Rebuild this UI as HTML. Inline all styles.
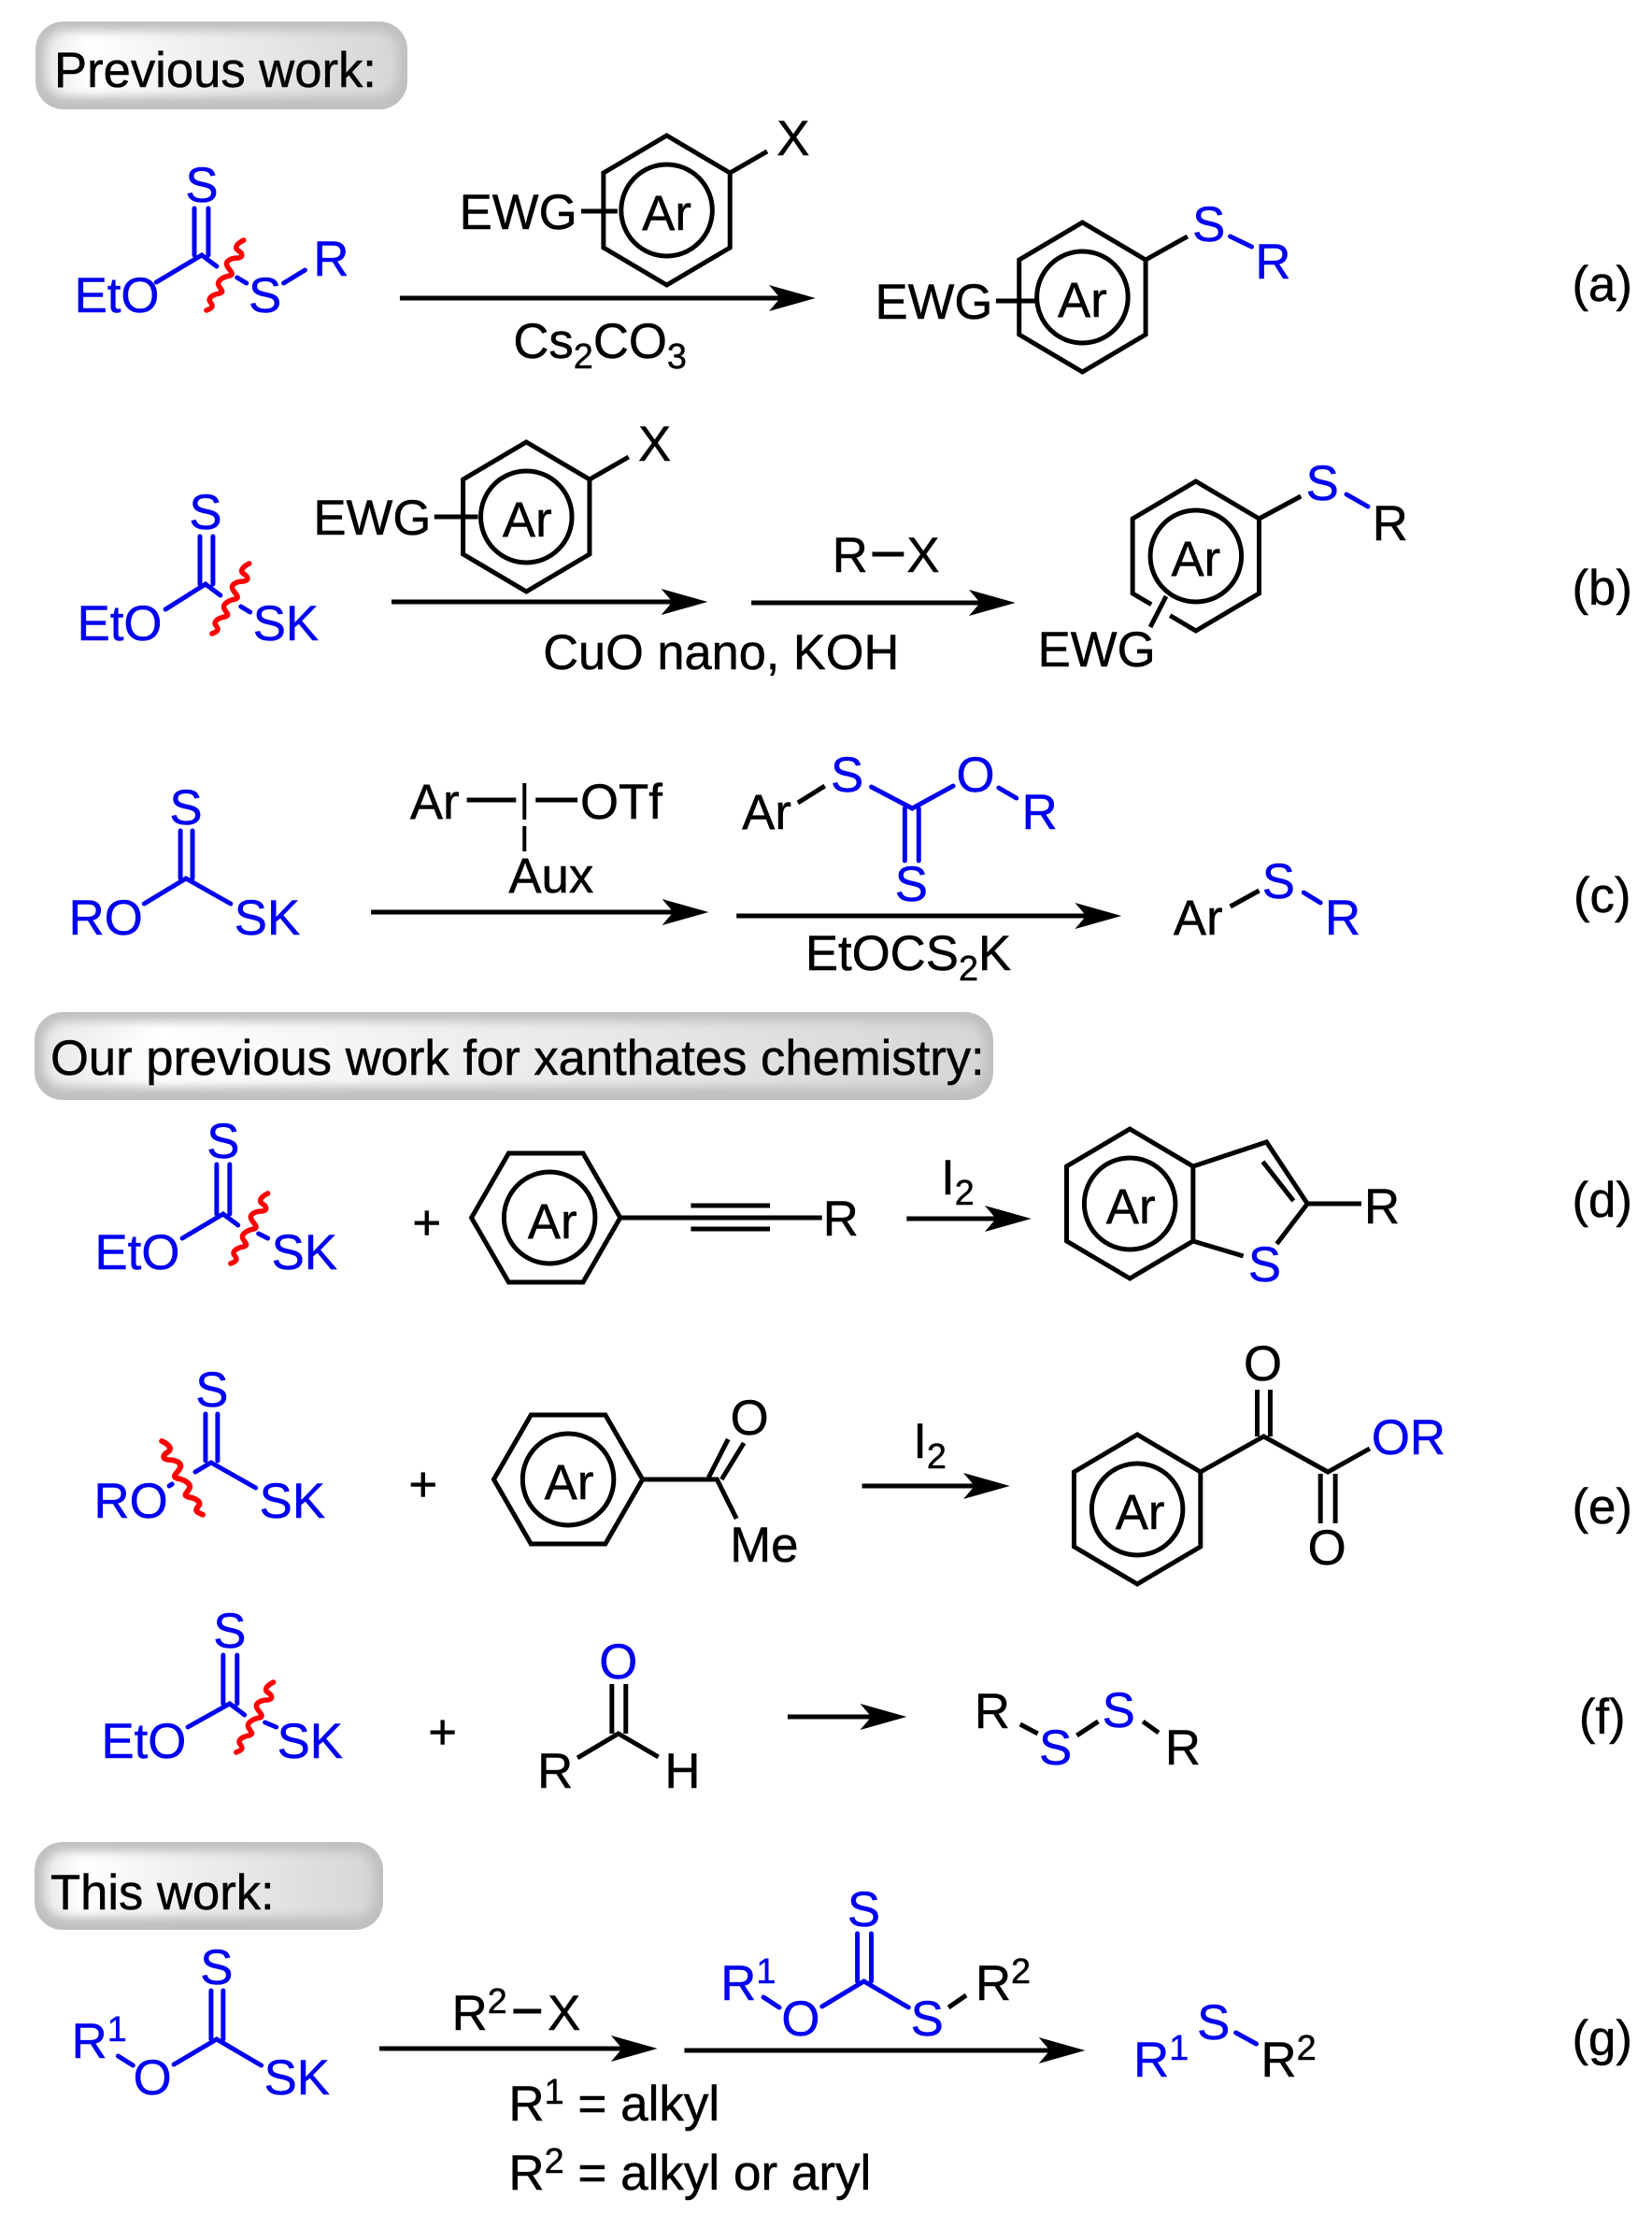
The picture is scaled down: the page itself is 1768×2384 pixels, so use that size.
<!DOCTYPE html>
<html><head><meta charset="utf-8"><style>
html,body{margin:0;padding:0;background:#fff}
svg{display:block}
text{font-family:"Liberation Sans",Arial,sans-serif;font-size:53px;fill:#000;stroke:#000;stroke-width:.5}
.c{text-anchor:middle}
.t{fill:#0000f0;stroke:#0000f0}
.p{font-size:52.6px}
.q{font-size:52.6px}
.m{font-size:53.3px}
.k{stroke:#000;stroke-width:5;fill:none;stroke-linecap:butt}
.u{stroke:#0000f0;stroke-width:5;fill:none;stroke-linecap:round}
.r{stroke:#f00;stroke-width:5.5;fill:none;stroke-linecap:round}
.a{fill:#000;stroke:none}
</style></head><body>
<svg xmlns="http://www.w3.org/2000/svg" width="1768" height="2384" viewBox="0 0 1768 2384">
<defs>
<linearGradient id="pg" x1="0" x2="1" y1="0" y2="0"><stop offset="0" stop-color="#e8e8e8"/><stop offset=".12" stop-color="#fff"/><stop offset=".45" stop-color="#eee"/><stop offset="1" stop-color="#d6d6d6"/></linearGradient>
<filter id="bl" x="-10%" y="-20%" width="120%" height="140%"><feGaussianBlur stdDeviation="5"/></filter>
<clipPath id="c1"><rect x="38" y="23" width="398" height="94" rx="30"/></clipPath>
<clipPath id="c2"><rect x="37" y="1083" width="1026" height="94" rx="30"/></clipPath>
<clipPath id="c3"><rect x="37" y="1971" width="372" height="94" rx="30"/></clipPath>
<g id="h1"><path class="k" d="M0-80L68-40V40L0 80L-68 40V-40Z"/><circle class="k" cx="0" cy="0" r="49"/></g>
<g id="h2"><path class="k" d="M-80 0L-40-69H40L80 0L40 69H-40Z"/><circle class="k" cx="0" cy="0" r="49"/></g>
<g id="h3"><path class="k" d="M-80 0L-40-69H40L80 0L40 69H-40Z"/><circle class="k" cx="4" cy="0" r="49"/></g>
<path id="w" class="r" d="M0 0C-8 4-10 8-6 11C-1 14 0 18-6 19C-13 19-20 22-18 27C-16 32-9 36-15 38C-21 39-29 43-27 48C-25 53-20 55-26 57C-33 58-39 62-36 66C-33 70-32 72-40 75"/>
</defs>
<rect width="1768" height="2384" fill="#fff"/>

<!-- pills -->
<rect x="38" y="23" width="398" height="94" rx="30" fill="#c0c0c0"/>
<g clip-path="url(#c1)"><rect x="48" y="33" width="378" height="70" rx="22" fill="url(#pg)" filter="url(#bl)"/></g>
<text class="p" x="58" y="93">Previous work:</text>
<rect x="37" y="1083" width="1026" height="94" rx="30" fill="#c0c0c0"/>
<g clip-path="url(#c2)"><rect x="47" y="1093" width="1006" height="70" rx="22" fill="url(#pg)" filter="url(#bl)"/></g>
<text class="q" x="54" y="1150">Our previous work for xanthates chemistry:</text>
<rect x="37" y="1971" width="373" height="94" rx="30" fill="#c0c0c0"/>
<g clip-path="url(#c3)"><rect x="47" y="1981" width="353" height="70" rx="22" fill="url(#pg)" filter="url(#bl)"/></g>
<text class="p" x="54" y="2043">This work:</text>

<g transform="scale(.9952 1)">
<!-- (a) -->
<text class="c t" x="217" y="216">S</text>
<path class="u" d="M209 223V273M224 223V273M168 302L217 273L233 285M255 297L265 303M305 303L328 289"/>
<text class="t" x="80" y="334">EtO</text><text class="c t" x="285" y="334">S</text><text class="t" x="337" y="295">R</text>
<use href="#w" x="262" y="257"/>
<use href="#h1" x="717" y="225"/>
<text class="c" x="717" y="246">Ar</text><text class="c" x="853" y="166">X</text><text x="494" y="245">EWG</text>
<path class="k" d="M785 185L825 162M625 226H664"/>
<path class="k" d="M430 319H841"/><polygon class="a" points="877,319 827,305 839,319 827,333"/>
<text x="552" y="383">Cs<tspan font-size="38" dy="11">2</tspan><tspan dy="-11">CO</tspan><tspan font-size="38" dy="11">3</tspan></text>
<use href="#h1" x="1164" y="318"/>
<text class="c" x="1164" y="339">Ar</text><text x="941" y="341">EWG</text>
<path class="k" d="M1232 278L1277 253M1071 322H1116"/>
<path class="u" d="M1323 253L1346 264"/>
<text class="c t" x="1300" y="258">S</text><text class="c t" x="1369" y="298">R</text>
<text class="c" x="1723" y="322">(a)</text>

<!-- (b) -->
<text class="c t" x="221" y="566">S</text>
<path class="u" d="M215 574V625M229 574V625M178 652L221 625L237 637M259 649L269 655"/>
<text class="t" x="83" y="685">EtO</text><text class="t" x="272" y="685">SK</text>
<use href="#w" x="268" y="603"/>
<use href="#h1" x="566" y="553"/>
<text class="c" x="567" y="574">Ar</text><text class="c" x="704" y="493">X</text><text x="337" y="572">EWG</text>
<path class="k" d="M634 513L676 489M467 553H514"/>
<path class="k" d="M421 644H726"/><polygon class="a" points="761,644 711,630 723,644 711,658"/>
<path class="k" d="M808 645H1058"/><polygon class="a" points="1092,645 1042,631 1054,645 1042,659"/>
<text x="895" y="612">R</text><text x="975" y="612">X</text><path class="k" d="M938 593H972"/>
<text class="p" x="584" y="716">CuO nano, KOH</text>
<use href="#h1" x="1286" y="595"/>
<path d="M1238 647L1258 659" stroke="#fff" stroke-width="8" fill="none"/>
<text class="c" x="1286" y="616">Ar</text><text x="1116" y="713">EWG</text>
<path class="k" d="M1354 555L1399 531M1254 638L1237 671"/>
<path class="u" d="M1448 529L1471 542"/>
<text class="c t" x="1422" y="535">S</text><text class="c" x="1495" y="578">R</text>
<text class="c" x="1723" y="647">(b)</text>

<!-- (c) -->
<text class="c t" x="200" y="882">S</text>
<path class="u" d="M194 889V940M207 889V940M155 967L200 940L248 967"/>
<text class="t" x="74" y="1000">RO</text><text class="t" x="252" y="1000">SK</text>
<text x="441" y="876">Ar</text><text x="624" y="876">OTf</text><text x="547" y="955">Aux</text>
<path class="k" d="M502 856H555M576 856H621"/>
<path class="k" style="stroke-width:4" d="M564 838V877M564 884V911"/>
<path class="k" d="M399 976H728"/><polygon class="a" points="762,976 712,962 724,976 712,990"/>
<text x="798" y="887">Ar</text>
<path class="k" d="M858 859L887 841"/>
<path class="u" d="M937 842L981 865L1025 841M1074 843L1093 854M973 865V921M988 865V921"/>
<text class="c t" x="911" y="847">S</text><text class="c t" x="1049" y="847">O</text><text class="c t" x="1118" y="887">R</text><text class="c t" x="980" y="964">S</text>
<path class="k" d="M792 980H1172"/><polygon class="a" points="1206,980 1156,966 1168,980 1156,994"/>
<text x="866" y="1038">EtOCS<tspan font-size="38" dy="11">2</tspan><tspan dy="-11">K</tspan></text>
<text x="1262" y="1000">Ar</text>
<path class="k" d="M1323 970L1354 953"/>
<path class="u" d="M1402 955L1420 966"/>
<text class="c t" x="1375" y="961">S</text><text class="c t" x="1444" y="1000">R</text>
<text class="c" x="1723" y="976">(c)</text>

<!-- (d) -->
<text class="c t" x="240" y="1239">S</text>
<path class="u" d="M233 1246V1299M247 1246V1299M196 1325L240 1299L256 1311M278 1320L288 1325"/>
<text class="t" x="102" y="1358">EtO</text><text class="t" x="292" y="1358">SK</text>
<use href="#w" x="288" y="1277"/>
<text class="c" x="459" y="1326">+</text>
<use href="#h3" x="587" y="1303"/>
<text class="c" x="594" y="1325">Ar</text>
<path class="k" d="M667 1303H884M743 1290H828M743 1315H828"/>
<text x="885" y="1322">R</text>
<path class="k" d="M975 1304H1075"/><polygon class="a" points="1109,1304 1059,1290 1071,1304 1059,1318"/>
<text x="1012" y="1278">I<tspan font-size="38" dy="11">2</tspan></text>
<use href="#h1" x="1215" y="1288"/>
<text class="c" x="1216" y="1309">Ar</text>
<path class="k" d="M1283 1248L1362 1222L1406 1288L1373 1331M1358 1243L1391 1285M1406 1288H1464M1283 1328L1337 1344"/>
<text class="c t" x="1360" y="1371">S</text><text x="1467" y="1309">R</text>
<text class="c" x="1723" y="1302">(d)</text>

<!-- (e) -->
<text class="c t" x="228" y="1505">S</text>
<path class="u" d="M221 1513V1563M234 1513V1563M275 1592L227 1565L210 1575M185 1588L182 1590"/>
<text class="t" x="101" y="1624">RO</text><text class="t" x="279" y="1624">SK</text>
<g transform="translate(174 1542) scale(-1.1 1.05)"><use href="#w"/></g>
<text class="c" x="455" y="1606">+</text>
<use href="#h2" x="611" y="1583"/>
<text class="c" x="612" y="1604">Ar</text>
<path class="k" d="M690 1583H771L792 1625M762 1581L783 1540M776 1583L800 1544"/>
<text class="c" x="806" y="1535">O</text><text x="785" y="1671">Me</text>
<path class="k" d="M927 1590H1052"/><polygon class="a" points="1086,1590 1036,1576 1048,1590 1036,1604"/>
<text x="982" y="1560">I<tspan font-size="38" dy="11">2</tspan></text>
<use href="#h1" x="1223" y="1615"/>
<circle cx="1227" cy="1615" r="0" fill="none"/>
<text class="c" x="1226" y="1636">Ar</text>
<path class="k" d="M1291 1575L1359 1537L1428 1575L1473 1550M1352 1487V1537M1366 1487V1537M1420 1577V1630M1436 1577V1630"/>
<text class="c" x="1358" y="1477">O</text><text class="c" x="1427" y="1674">O</text><text x="1475" y="1556" class="t">OR</text>
<text class="c" x="1723" y="1630">(e)</text>

<!-- (f) -->
<text class="c t" x="247" y="1763">S</text>
<path class="u" d="M240 1771V1823M255 1771V1823M202 1848L247 1823L263 1835M285 1843L297 1848"/>
<text class="t" x="109" y="1881">EtO</text><text class="t" x="298" y="1881">SK</text>
<use href="#w" x="294" y="1800"/>
<text class="c" x="476" y="1871">+</text>
<text class="c t" x="665" y="1796">O</text>
<path class="k" d="M621 1881L665 1855L708 1880M658 1802V1855M673 1802V1855"/>
<text class="c" x="597" y="1913">R</text><text class="c" x="734" y="1913">H</text>
<path class="k" d="M847 1837H941"/><polygon class="a" points="975,1837 925,1823 937,1837 925,1851"/>
<text class="c" x="1067" y="1849">R</text><text class="c t" x="1135" y="1888">S</text><text class="c t" x="1203" y="1848">S</text><text class="c" x="1272" y="1888">R</text>
<path class="k" d="M1097 1845L1116 1855M1158 1857L1181 1842M1229 1842L1246 1854"/>
<text class="c" x="1723" y="1855">(f)</text>

<!-- (g) -->
<text class="c t" x="233" y="2123">S</text>
<path class="u" d="M227 2130V2182M240 2130V2182M187 2209L233 2182L281 2210M127 2200L143 2210"/>
<text class="t" x="77" y="2202">R<tspan font-size="38" dy="-18">1</tspan></text>
<text class="c t" x="164" y="2241">O</text><text class="t" x="284" y="2241">SK</text>
<path class="k" d="M408 2192H673"/><polygon class="a" points="707,2192 657,2178 669,2192 657,2206"/>
<text x="486" y="2172">R<tspan font-size="38" dy="-18">2</tspan></text><text x="589" y="2172">X</text><path class="k" d="M552 2152H582"/>
<text class="m" x="547" y="2269">R<tspan font-size="38" dy="-18">1</tspan><tspan dy="18"> = alkyl</tspan></text>
<text class="m" x="547" y="2343">R<tspan font-size="38" dy="-18">2</tspan><tspan dy="18"> = alkyl or aryl</tspan></text>
<text class="c t" x="929" y="2061">S</text>
<path class="u" d="M922 2069V2120M937 2069V2120M884 2147L929 2120L977 2148M821 2137L838 2148"/>
<path class="k" d="M1020 2148L1039 2135"/>
<text class="t" x="775" y="2140">R<tspan font-size="38" dy="-18">1</tspan></text>
<text class="c t" x="861" y="2178">O</text><text class="c t" x="997" y="2178">S</text>
<text x="1049" y="2140">R<tspan font-size="38" dy="-18">2</tspan></text>
<path class="k" d="M736 2194H1133"/><polygon class="a" points="1167,2194 1117,2180 1129,2194 1117,2208"/>
<text class="t" x="1219" y="2222">R<tspan font-size="38" dy="-18">1</tspan></text>
<text class="c t" x="1305" y="2182">S</text>
<path class="u" d="M1329 2175L1351 2187"/>
<text x="1356" y="2222">R<tspan font-size="38" dy="-18">2</tspan></text>
<text class="c" x="1723" y="2199">(g)</text>
</g>
</svg>
</body></html>
